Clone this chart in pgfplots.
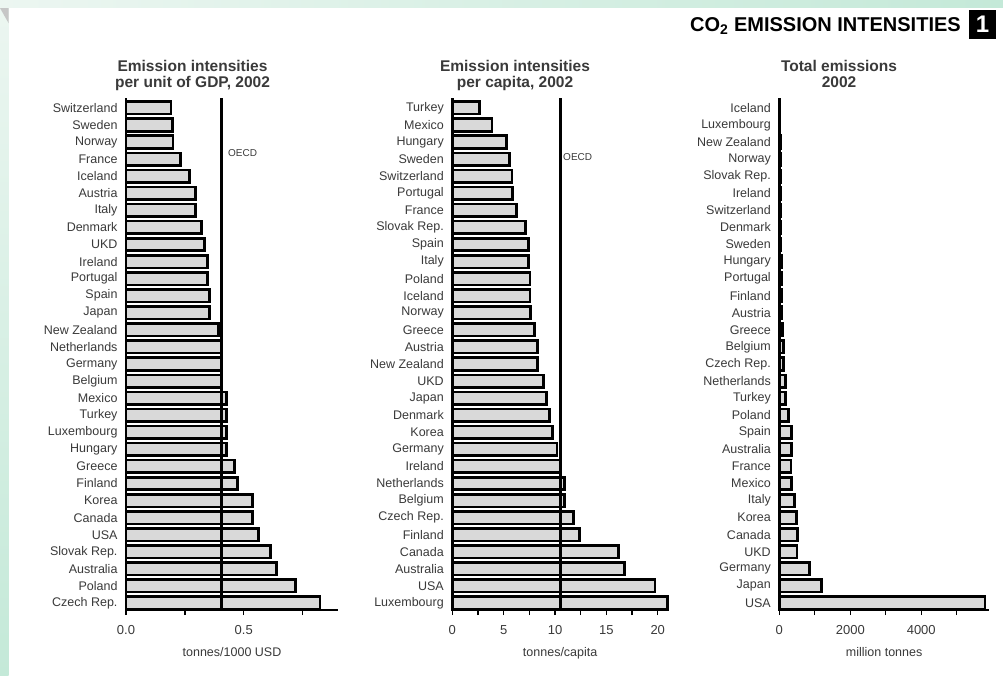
\documentclass[border=0pt]{standalone}
\usepackage{pgfplots}
\pgfplotsset{compat=1.18}
\usepackage{pgfplotstable}
\usepackage{fontspec}
\setmainfont{Liberation Sans}
\definecolor{barfill}{HTML}{D9D9D9}
\definecolor{lbl}{HTML}{3A3A3A}
\definecolor{mintA}{HTML}{ECF6F1}
\definecolor{mintB}{HTML}{C4E9D8}

% listed from bottom row to top row
\pgfplotstableread[col sep=comma]{
name,val
Czech Rep.,0.823
Poland,0.720
Australia,0.640
Slovak Rep.,0.614
USA,0.562
Canada,0.536
Korea,0.536
Finland,0.474
Greece,0.461
Hungary,0.426
Luxembourg,0.426
Turkey,0.426
Mexico,0.426
Belgium,0.405
Germany,0.405
Netherlands,0.405
New Zealand,0.392
Japan,0.355
Spain,0.355
Portugal,0.345
Ireland,0.345
UKD,0.334
Denmark,0.321
Italy,0.296
Austria,0.296
Iceland,0.270
France,0.232
Norway,0.200
Sweden,0.197
Switzerland,0.191
}\tabGDP

\pgfplotstableread[col sep=comma]{
name,val
Luxembourg,20.97
USA,19.74
Australia,16.79
Canada,16.17
Finland,12.40
Czech Rep.,11.82
Belgium,10.94
Netherlands,10.94
Ireland,10.50
Germany,10.19
Korea,9.74
Denmark,9.45
Japan,9.19
UKD,8.86
New Zealand,8.27
Austria,8.27
Greece,8.02
Norway,7.60
Iceland,7.58
Poland,7.55
Italy,7.40
Spain,7.40
Slovak Rep.,7.14
France,6.27
Portugal,5.88
Switzerland,5.81
Sweden,5.58
Hungary,5.29
Mexico,3.86
Turkey,2.66
}\tabCap

\pgfplotstableread[col sep=comma]{
name,val
USA,5800
Japan,1194
Germany,855
UKD,500
Canada,508
Korea,489
Italy,423
Mexico,338
France,329
Australia,338
Spain,348
Poland,254
Turkey,172
Netherlands,179
Czech Rep.,118
Belgium,114
Greece,94
Austria,74
Finland,70
Portugal,62
Hungary,57
Sweden,53
Denmark,52
Switzerland,44
Ireland,43
Slovak Rep.,39
Norway,36
New Zealand,32
Luxembourg,10
Iceland,2
}\tabTot

\pgfplotsset{
  panel/.style={
    anchor=south west, scale only axis, height=512pt,
    ymin=-0.41, ymax=29.58,
    axis x line*=bottom, axis y line*=left,
    axis line style={line width=2.5pt,-},
    ytick=data, ytick style={draw=none},
    xtick style={line width=1.4pt,black},
    tick align=outside, major tick length=5pt,
    yticklabel style={font=\fontsize{12.5}{14}\selectfont, text=lbl},
    xticklabel style={font=\fontsize{13}{15}\selectfont, text=lbl, yshift=-7pt},
    xlabel style={font=\fontsize{12.5}{14}\selectfont, text=lbl, yshift=-6pt},
    scaled x ticks=false,
    clip=false,
    /pgf/number format/assume math mode=true,
  },
  bars/.style={xbar, bar width=12.5pt, fill=barfill, draw=black, line width=2.6pt},
  oecd/.style={black, line width=2.8pt, no markers},
}
\tikzset{oecdlbl/.style={anchor=west, inner sep=0pt, font=\fontsize{10}{12}\selectfont, text=lbl}}

\begin{document}
\begin{tikzpicture}
\path[fill=white, use as bounding box] (0pt,0pt) rectangle (1003pt,-675pt);
\shade[left color=mintA, right color=mintB] (0pt,0pt) rectangle (1003pt,-7pt);
\shade[top color=mintA, bottom color=mintB] (0pt,0pt) rectangle (8.5pt,-675pt);
\fill[gray!45] (0pt,-8pt) -- (8.5pt,-8pt) -- (8.5pt,-23pt) -- cycle;

% header
\node[anchor=base west, inner sep=0pt, font=\fontsize{20}{24}\selectfont\bfseries] at (690pt,-31pt) {CO\textsubscript{2} EMISSION INTENSITIES};
\fill[black] (969pt,-10pt) rectangle (996pt,-39pt);
\node[text=white, font=\fontsize{24}{26}\selectfont\bfseries] at (982.5pt,-24.5pt) {1};

% titles
\begin{scope}[every node/.style={anchor=base, inner sep=0pt, text=lbl, font=\fontsize{15.5}{17}\selectfont\bfseries}]
\node at (192.5pt,-71pt) {Emission intensities};
\node at (192.5pt,-87pt) {per unit of GDP, 2002};
\node at (515pt,-71pt) {Emission intensities};
\node at (515pt,-87pt) {per capita, 2002};
\node at (839pt,-71pt) {Total emissions};
\node at (839pt,-87pt) {2002};
\end{scope}

% panel 1
\begin{axis}[panel, at={(126pt,-610pt)}, width=212pt,
  xmin=0, xmax=0.9, xtick={0,0.25,0.5,0.75}, xticklabels={0.0,,0.5,},
  yticklabels from table={\tabGDP}{name}, xlabel={tonnes/1000 USD}]
\addplot[bars] table[x=val, y expr=\coordindex] {\tabGDP};
\addplot[oecd] coordinates {(0.407,-0.41) (0.407,29.58)};
\node[oecdlbl] at (axis cs:0.433,26.36) {OECD};
\end{axis}

% panel 2
\begin{axis}[panel, at={(452.3pt,-610pt)}, width=215.7pt,
  xmin=0, xmax=21, xtick={0,2.5,...,20}, xticklabels={0,,5,,10,,15,,20},
  yticklabels from table={\tabCap}{name}, xlabel={tonnes/capita}]
\addplot[bars] table[x=val, y expr=\coordindex] {\tabCap};
\addplot[oecd] coordinates {(10.55,-0.41) (10.55,29.58)};
\node[oecdlbl] at (axis cs:10.78,26.13) {OECD};
\end{axis}

% panel 3
\begin{axis}[panel, at={(779.3pt,-610pt)}, width=209.7pt,
  xmin=0, xmax=5910, xtick={0,1000,...,5000}, xticklabels={0,,2000,,4000,},
  yticklabels from table={\tabTot}{name}, xlabel={million tonnes}]
\addplot[bars] table[x=val, y expr=\coordindex] {\tabTot};
\end{axis}
\end{tikzpicture}
\end{document}
